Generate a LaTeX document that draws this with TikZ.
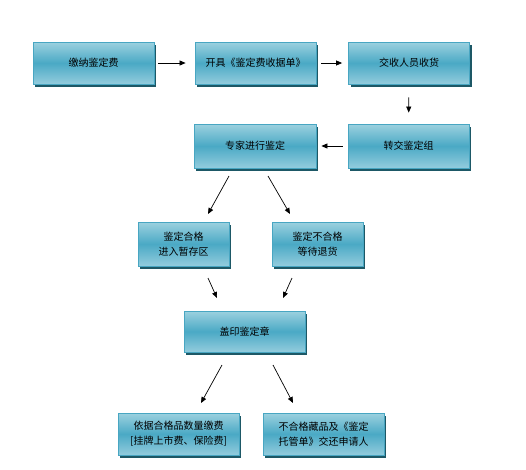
\documentclass[tikz,border=0pt]{standalone}
\usepackage{fontspec}
\setmainfont{Noto Sans CJK SC}
\usetikzlibrary{arrows.meta,shadows}
\definecolor{boxtop}{HTML}{9CD1DF}
\definecolor{boxmid}{HTML}{4AA9C5}
\definecolor{boxbot}{HTML}{93CCDD}
\definecolor{boxline}{HTML}{48A6C2}
\definecolor{boxshadow}{HTML}{1D5866}
\tikzset{
  flowbox/.style={draw=boxline, line width=0.8pt, top color=boxtop, bottom color=boxbot, middle color=boxmid,
    drop shadow={shadow xshift=2pt, shadow yshift=-2.5pt, fill=boxshadow, opacity=1},
    minimum width=121pt, minimum height=42pt, inner sep=0pt, align=center,
    font=\fontsize{10pt}{15pt}\selectfont},
  flowarrow/.style={line width=0.7pt, -{Triangle[length=6pt,width=5pt]}}
}
\begin{document}
\begin{tikzpicture}[x=1pt,y=-1pt]
\useasboundingbox (0,0) rectangle (526,469);
\node[flowbox] (b1) at (93.5,63) {缴纳鉴定费};
\node[flowbox] (b2) at (255.5,63) {开具《鉴定费收据单》};
\node[flowbox] (b3) at (409,63) {交收人员收货};
\node[flowbox, minimum height=44pt] (b4) at (408.5,146) {转交鉴定组};
\node[flowbox, minimum height=44pt, minimum width=122pt] (b5) at (255,146) {专家进行鉴定};
\node[flowbox, minimum width=91pt, minimum height=44pt] (b6) at (183.5,244) {鉴定合格\\进入暂存区};
\node[flowbox, minimum width=91pt, minimum height=44pt] (b7) at (317.5,244) {鉴定不合格\\等待退货};
\node[flowbox, minimum height=41pt] (b8) at (244.5,331.5) {盖印鉴定章};
\node[flowbox] (b9) at (178.5,434) {依据合格品数量缴费\\{[}挂牌上市费、保险费{]}};
\node[flowbox] (b10) at (323.5,434) {不合格藏品及《鉴定\\托管单》交还申请人};

\draw[flowarrow, shorten <=4pt, shorten >=9pt] (b1) -- (b2);
\draw[flowarrow, shorten <=5pt, shorten >=6pt] (b2) -- (b3);
\draw[flowarrow, shorten <=13pt, shorten >=11pt] (b3) -- (b4);
\draw[flowarrow, shorten <=5pt, shorten >=5pt] (b4) -- (b5);

\coordinate (s1) at (229,176);
\coordinate (e1) at (208,214);
\coordinate (s2) at (268,176);
\coordinate (e2) at (290,214);
\coordinate (s3) at (208,278);
\coordinate (e3) at (217,298);
\coordinate (s4) at (292,278);
\coordinate (e4) at (283,298);
\coordinate (s5) at (222,365);
\coordinate (e5) at (201,403);
\coordinate (s6) at (273,365);
\coordinate (e6) at (293,403);
\draw[flowarrow] (s1) -- (e1);
\draw[flowarrow] (s2) -- (e2);
\draw[flowarrow] (s3) -- (e3);
\draw[flowarrow] (s4) -- (e4);
\draw[flowarrow] (s5) -- (e5);
\draw[flowarrow] (s6) -- (e6);
\end{tikzpicture}
\end{document}
